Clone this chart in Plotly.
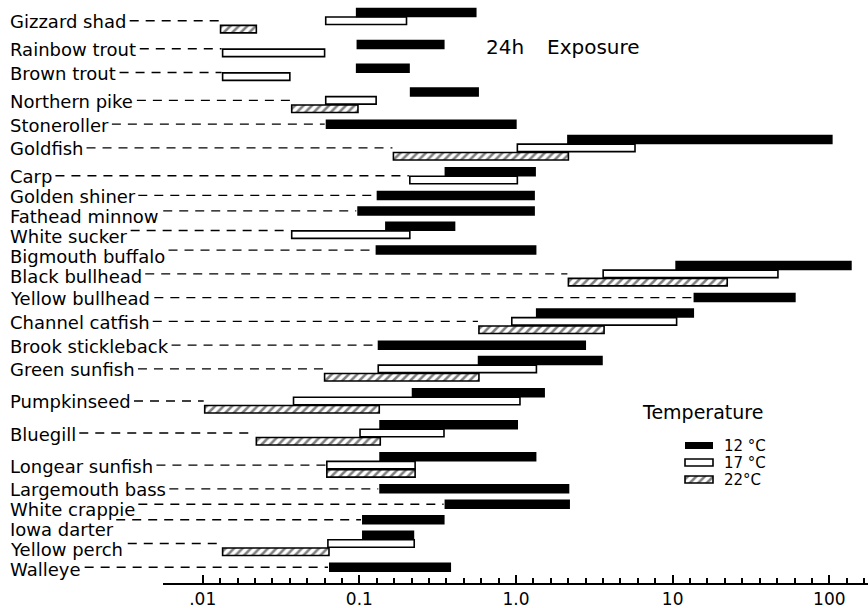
import numpy as np
import plotly.graph_objects as go

# ---------------- data (24 h exposure ranges) ----------------
species = ["Gizzard shad", "Rainbow trout", "Brown trout", "Northern pike", "Stoneroller",
           "Goldfish", "Carp", "Golden shiner", "Fathead minnow", "White sucker",
           "Bigmouth buffalo", "Black bullhead", "Yellow bullhead", "Channel catfish",
           "Brook stickleback", "Green sunfish", "Pumpkinseed", "Bluegill",
           "Longear sunfish", "Largemouth bass", "White crappie", "Iowa darter",
           "Yellow perch", "Walleye"]

low_12 = [0.095, 0.096, 0.095, 0.21, 0.061, 2.12, 0.35, 0.129, 0.097, 0.146, 0.127, 10.4,
          13.6, 1.34, 0.131, 0.57, 0.216, 0.134, 0.134, 0.134, 0.35, 0.104, 0.104, 0.064]
high_12 = [0.56, 0.35, 0.21, 0.58, 1.01, 105, 1.34, 1.32, 1.32, 0.41, 1.35, 139,
           61, 13.7, 2.8, 3.58, 1.53, 1.03, 1.35, 2.19, 2.21, 0.35, 0.224, 0.385]

low_17 = [0.061, 0.0134, 0.0134, 0.061, None, 1.02, 0.21, None, None, 0.037, None, 3.6,
          None, 0.94, None, 0.132, 0.038, 0.101, 0.062, None, None, None, 0.063, None]
high_17 = [0.20, 0.060, 0.036, 0.128, None, 5.75, 1.02, None, None, 0.21, None, 47,
           None, 10.6, None, 1.35, 1.06, 0.347, 0.227, None, None, None, 0.224, None]

low_22 = [0.013, None, None, 0.037, None, 0.165, None, None, None, None, None, 2.16,
          None, 0.58, None, 0.060, 0.0103, 0.022, 0.062, None, None, None, 0.0134, None]
high_22 = [0.022, None, None, 0.098, None, 2.16, None, None, None, None, None, 22.3,
           None, 3.65, None, 0.58, 0.134, 0.136, 0.227, None, None, None, 0.064, None]

temp_labels = ["12 °C", "17 °C", "22°C"]
major_vals = [0.01, 0.1, 1, 10, 100]
major_text = [".01", "0.1", "1.0", "10", "100"]

# ---------------- layout constants ----------------
W, H = 868, 608
LM, BM = 163, 25
PW, PH = W - LM, H - BM
XR = [-2.2534, 2.247]
FONT = "DejaVu Sans"
BAR_H, STEP, GAP, TOP = 9.0, 8.3, 6.46, 8.0
LABEL_SIZE = 18
LABEL_X = 8
LABEL_MIN_SPACING = 20

def xpaper(v):
    return (np.log10(v) - XR[0]) / (XR[1] - XR[0])

def px_to_paper(px):
    return (px - LM) / PW

# approximate DejaVu Sans advance widths (em) for leader-line start
CW = {' ': .318, 'A': .684, 'B': .686, 'C': .698, 'F': .575, 'G': .775, 'I': .295, 'L': .557,
      'N': .748, 'P': .603, 'R': .695, 'S': .635, 'W': .989, 'Y': .611, 'a': .613, 'b': .635,
      'c': .550, 'd': .635, 'e': .615, 'f': .352, 'g': .635, 'h': .634, 'i': .278, 'k': .579,
      'l': .278, 'm': .974, 'n': .634, 'o': .612, 'p': .635, 'r': .411, 's': .521, 't': .392,
      'u': .634, 'v': .592, 'w': .818, 'x': .592, 'y': .592, 'z': .525}

series = [(low_12, high_12), (low_17, high_17), (low_22, high_22)]

# row centres: rows stacked, each as tall as its bar stack
counts = [sum(1 for lo, hi in series if lo[i] is not None) for i in range(len(species))]
heights = [BAR_H + (n - 1) * STEP for n in counts]
centers = []
for i, h in enumerate(heights):
    if i == 0:
        c = TOP + h / 2
    else:
        c = centers[-1] + heights[i - 1] / 2 + GAP + h / 2
    centers.append(c)

# label positions: at row centre but never closer than LABEL_MIN_SPACING
label_y = []
for i, c in enumerate(centers):
    if i == 0:
        label_y.append(c + 1)
    else:
        label_y.append(max(c + 1, label_y[-1] + LABEL_MIN_SPACING))

bars = {k: {"y": [], "base": [], "x": []} for k in range(3)}
for i, sp in enumerate(species):
    present = [k for k in range(3) if series[k][0][i] is not None]
    n = len(present)
    for j, k in enumerate(present):
        lo, hi = series[k][0][i], series[k][1][i]
        bars[k]["y"].append(centers[i] - (n - 1) * STEP / 2 + j * STEP)
        bars[k]["base"].append(lo)
        bars[k]["x"].append(hi - lo)

fig = go.Figure()

styles = [
    dict(color="black", line=dict(color="black", width=0)),
    dict(color="white", line=dict(color="black", width=1.6)),
    dict(color="white", line=dict(color="black", width=1.6),
         pattern=dict(shape="/", fgcolor="black", bgcolor="white", size=6, solidity=0.42)),
]
widths = [BAR_H + 0.5, BAR_H - 1.5, BAR_H - 1.5]

for k in [2, 1, 0]:
    fig.add_trace(go.Bar(orientation="h", y=bars[k]["y"], x=bars[k]["x"], base=bars[k]["base"],
                         width=widths[k], marker=styles[k], name=temp_labels[k],
                         showlegend=False, hoverinfo="skip"))

# labels and dashed leader lines
annotations = []
shapes = []
for i, sp in enumerate(species):
    annotations.append(dict(text=sp, xref="paper", yref="y", x=px_to_paper(LABEL_X), y=label_y[i],
                            xanchor="left", yanchor="middle", showarrow=False,
                            font=dict(family=FONT, size=LABEL_SIZE, color="black")))
    tw = sum(CW.get(ch, 0.6) for ch in sp) * LABEL_SIZE
    start = px_to_paper(LABEL_X + tw + 5)
    lows = [series[k][0][i] for k in range(3) if series[k][0][i] is not None]
    end = xpaper(min(lows)) - 1.0 / PW
    if end > start:
        shapes.append(dict(type="line", xref="paper", yref="y", x0=start, x1=end,
                           y0=centers[i], y1=centers[i], layer="below",
                           line=dict(color="black", width=1.4, dash="9px,7px")))

annotations.append(dict(text="24h", xref="paper", yref="y", x=px_to_paper(484), y=47,
                        xanchor="left", yanchor="middle", showarrow=False,
                        font=dict(family=FONT, size=20, color="black")))
annotations.append(dict(text="Exposure", xref="paper", yref="y", x=px_to_paper(545), y=47,
                        xanchor="left", yanchor="middle", showarrow=False,
                        font=dict(family=FONT, size=20, color="black")))

# legend (custom swatches on an overlay axis)
leg_y = [445.5, 462.5, 479.5]
annotations.append(dict(text="Temperature", xref="paper", yref="y", x=px_to_paper(640), y=412,
                        xanchor="left", yanchor="middle", showarrow=False,
                        font=dict(family=FONT, size=19, color="black")))
for k in range(3):
    fig.add_trace(go.Bar(orientation="h", y=[leg_y[k]], x=[28 / PW], base=[px_to_paper(685)],
                         width=7, marker=styles[k], xaxis="x2", yaxis="y",
                         showlegend=False, hoverinfo="skip"))
    annotations.append(dict(text=temp_labels[k], xref="paper", yref="y", x=px_to_paper(722),
                            y=leg_y[k], xanchor="left", yanchor="middle", showarrow=False,
                            font=dict(family=FONT, size=15, color="black")))

minor_vals = [10 ** (e + j / 9) for e in range(-2, 3) for j in range(1, 9)]
minor_vals = [v for v in minor_vals if np.log10(v) < XR[1]]

fig.update_layout(
    width=W, height=H,
    margin=dict(l=LM, r=0, t=0, b=BM, autoexpand=False),
    paper_bgcolor="white", plot_bgcolor="white",
    barmode="overlay", showlegend=False,
    font=dict(family=FONT, color="black"),
    xaxis=dict(type="log", range=XR, showgrid=False, zeroline=False,
               showline=True, linecolor="black", linewidth=2,
               tickmode="array", tickvals=major_vals, ticktext=major_text,
               ticks="inside", ticklen=8, tickwidth=1.5, tickcolor="black",
               tickfont=dict(family=FONT, size=17, color="black"),
               minor=dict(tickmode="array", tickvals=minor_vals, ticks="inside",
                          ticklen=5, tickwidth=1.5, tickcolor="black", showgrid=False),
               fixedrange=True),
    xaxis2=dict(overlaying="x", range=[0, 1], visible=False, fixedrange=True),
    yaxis=dict(range=[PH, 0], visible=False, showgrid=False, zeroline=False, fixedrange=True),
    annotations=annotations,
    shapes=shapes,
)

fig.write_html("out.html", config={"displayModeBar": False})
